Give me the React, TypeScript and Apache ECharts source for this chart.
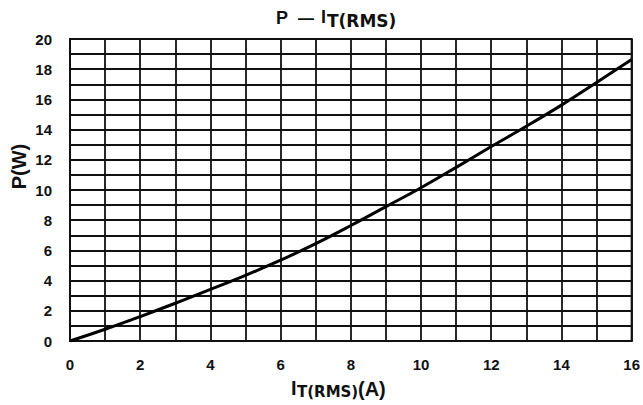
import React, { useEffect, useRef } from "react";
import * as echarts from "echarts";

// On-state current I_T(RMS) in amperes and the matching power dissipation in watts
const currentA = [0, 1, 2, 3, 4, 5, 6, 7, 8, 9, 10, 11, 12, 13, 14, 15, 16];
const powerW = [0, 0.78, 1.62, 2.5, 3.42, 4.35, 5.35, 6.45, 7.65, 8.9, 10.15, 11.5, 12.88, 14.22, 15.62, 17.12, 18.65];

const xRange = { min: 0, max: 16 };
const yRange = { min: 0, max: 20 };

const MAIN_FONT = "'Liberation Sans', Arial, Helvetica, sans-serif";
const SUB_FONT = "'DejaVu Sans', sans-serif";
const INK = "#111";

const txt = (
  text: string,
  x: number,
  y: number,
  size: number,
  family: string,
  extra: Record<string, unknown> = {}
) => ({
  type: "text",
  x,
  y,
  ...extra,
  style: {
    text,
    fontSize: size,
    fontWeight: "bold",
    fontFamily: family,
    fill: INK,
    verticalAlign: "middle",
    align: (extra.align as string) || "left",
  },
});

export default function App() {
  const ref = useRef<HTMLDivElement>(null);

  useEffect(() => {
    if (!ref.current) return;
    const chart = echarts.init(ref.current, undefined, { renderer: "svg" });

    const evenOnly = (v: number) => (Math.round(v) % 2 === 0 ? String(v) : "");
    const gridLine = { show: true, lineStyle: { color: INK, width: 1.8 } };
    const tickLabel = {
      formatter: evenOnly,
      color: INK,
      fontFamily: MAIN_FONT,
      fontWeight: "bold",
      fontSize: 15,
    };

    chart.setOption({
      animation: false,
      backgroundColor: "#fff",
      grid: { left: 70, right: 9, top: 39, bottom: 64, show: true, borderColor: INK, borderWidth: 2 },
      xAxis: {
        type: "value",
        min: xRange.min,
        max: xRange.max,
        interval: 1,
        axisLine: { show: true, lineStyle: { color: INK, width: 2 } },
        axisTick: { show: false },
        splitLine: gridLine,
        axisLabel: { ...tickLabel, margin: 16 },
      },
      yAxis: {
        type: "value",
        min: yRange.min,
        max: yRange.max,
        interval: 1,
        axisLine: { show: true, lineStyle: { color: INK, width: 2 } },
        axisTick: { show: false },
        splitLine: gridLine,
        axisLabel: { ...tickLabel, margin: 18 },
      },
      series: [
        {
          type: "line",
          data: currentA.map((x, i) => [x, powerW[i]]),
          smooth: 0.4,
          showSymbol: false,
          lineStyle: { color: "#000", width: 3 },
        },
      ],
      graphic: [
        // title: P — I_T(RMS)
        txt("P", 276, 18, 18, MAIN_FONT),
        txt("—", 298, 18.5, 16, MAIN_FONT),
        txt("I", 321, 16.6, 18, MAIN_FONT),
        txt("T(RMS)", 327, 21, 17, SUB_FONT),
        // x axis name: I_T(RMS)(A)
        txt("I", 291, 388, 20, MAIN_FONT),
        txt("T(RMS)", 297, 391.5, 15, SUB_FONT),
        txt("(A)", 358, 388.5, 20, MAIN_FONT),
        // y axis name: P(W)
        txt("P(W)", 19, 166.5, 20, MAIN_FONT, { rotation: Math.PI / 2, align: "center" }),
      ],
    });

    return () => chart.dispose();
  }, []);

  return <div ref={ref} style={{ position: "fixed", left: 0, top: 0, width: 643, height: 405, background: "#fff" }} />;
}
